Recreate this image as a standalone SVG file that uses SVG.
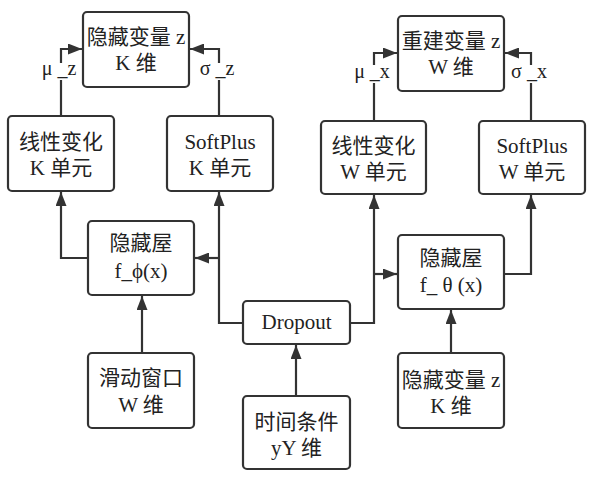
<svg xmlns="http://www.w3.org/2000/svg" width="598" height="481" viewBox="0 0 598 481">
<style>
.box{fill:#fff;stroke:#333;stroke-width:2.2}
.t{font-family:"Liberation Serif","Noto Sans CJK SC",serif;font-size:21px;fill:#222;text-anchor:middle}
.lb{font-family:"Liberation Serif","Noto Sans CJK SC",serif;font-size:20px;fill:#222;text-anchor:middle}
.c{fill:none;stroke:#333;stroke-width:2.2}
</style>
<defs>
<marker id="ah" markerUnits="userSpaceOnUse" markerWidth="15" markerHeight="11" refX="14" refY="5.5" orient="auto">
<path d="M0,0 L14,5.5 L0,11 z" fill="#333"/>
</marker>
</defs>
<rect width="598" height="481" fill="#fff"/>
<g id="connectors">
<path class="c" d="M88,258 H61 V192" marker-end="url(#ah)"/>
<path class="c" d="M243,323 H219 V192" marker-end="url(#ah)"/>
<path class="c" d="M219,258 H195" marker-end="url(#ah)"/>
<path class="c" d="M142,353 V296" marker-end="url(#ah)"/>
<path class="c" d="M296,396 V345" marker-end="url(#ah)"/>
<path class="c" d="M350,323 H374 V195" marker-end="url(#ah)"/>
<path class="c" d="M374,274 H397" marker-end="url(#ah)"/>
<path class="c" d="M504,274 H531 V195" marker-end="url(#ah)"/>
<path class="c" d="M451,353 V310" marker-end="url(#ah)"/>
<path class="c" d="M61,116 V80 M61,63 V49 H82" marker-end="url(#ah)"/>
<path class="c" d="M219,116 V80 M219,63 V49 H190" marker-end="url(#ah)"/>
<path class="c" d="M374,121 V83 M374,65 V53 H397" marker-end="url(#ah)"/>
<path class="c" d="M531,121 V83 M531,65 V53 H505" marker-end="url(#ah)"/>
<text class="lb" x="59" y="75">μ _z</text>
<text class="lb" x="217" y="75">σ _z</text>
<text class="lb" x="372" y="78">μ _x</text>
<text class="lb" x="529" y="78">σ _x</text>
</g>
<g id="latent-z">
<rect class="box" x="83" y="12" width="106" height="75" rx="4"/>
<text class="t" x="136" y="44">隐藏变量 z</text>
<text class="t" x="136" y="70">K 维</text>
</g>
<g id="linear-k">
<rect class="box" x="8" y="116" width="106" height="75" rx="4"/>
<text class="t" x="61" y="149">线性变化</text>
<text class="t" x="61" y="175">K 单元</text>
</g>
<g id="softplus-k">
<rect class="box" x="167" y="116" width="106" height="75" rx="4"/>
<text class="t" x="220" y="149">SoftPlus</text>
<text class="t" x="220" y="175">K 单元</text>
</g>
<g id="recon-z">
<rect class="box" x="398" y="16" width="106" height="75" rx="4"/>
<text class="t" x="451" y="48">重建变量 z</text>
<text class="t" x="451" y="74">W 维</text>
</g>
<g id="linear-w">
<rect class="box" x="321" y="121" width="105" height="73" rx="4"/>
<text class="t" x="373.5" y="153">线性变化</text>
<text class="t" x="373.5" y="179">W 单元</text>
</g>
<g id="softplus-w">
<rect class="box" x="479" y="121" width="106" height="73" rx="4"/>
<text class="t" x="532" y="153">SoftPlus</text>
<text class="t" x="532" y="179">W 单元</text>
</g>
<g id="hidden-phi">
<rect class="box" x="88" y="221" width="106" height="74" rx="4"/>
<text class="t" x="141" y="250">隐藏屋</text>
<text class="t" x="141" y="278">f_ϕ(x)</text>
</g>
<g id="window">
<rect class="box" x="88" y="353" width="106" height="75" rx="4"/>
<text class="t" x="141" y="385">滑动窗口</text>
<text class="t" x="141" y="412">W 维</text>
</g>
<g id="dropout">
<rect class="box" x="243" y="301" width="107" height="43" rx="4"/>
<text class="t" x="296.5" y="329">Dropout</text>
</g>
<g id="time-cond">
<rect class="box" x="243" y="396" width="107" height="73" rx="4"/>
<text class="t" x="296.5" y="429">时间条件</text>
<text class="t" x="296.5" y="455">yY 维</text>
</g>
<g id="hidden-theta">
<rect class="box" x="398" y="235" width="106" height="74" rx="4"/>
<text class="t" x="451" y="265">隐藏屋</text>
<text class="t" x="451" y="292">f_ θ (x)</text>
</g>
<g id="latent-z-k">
<rect class="box" x="398" y="353" width="106" height="75" rx="4"/>
<text class="t" x="451" y="387">隐藏变量 z</text>
<text class="t" x="451" y="413">K 维</text>
</g>
</svg>
